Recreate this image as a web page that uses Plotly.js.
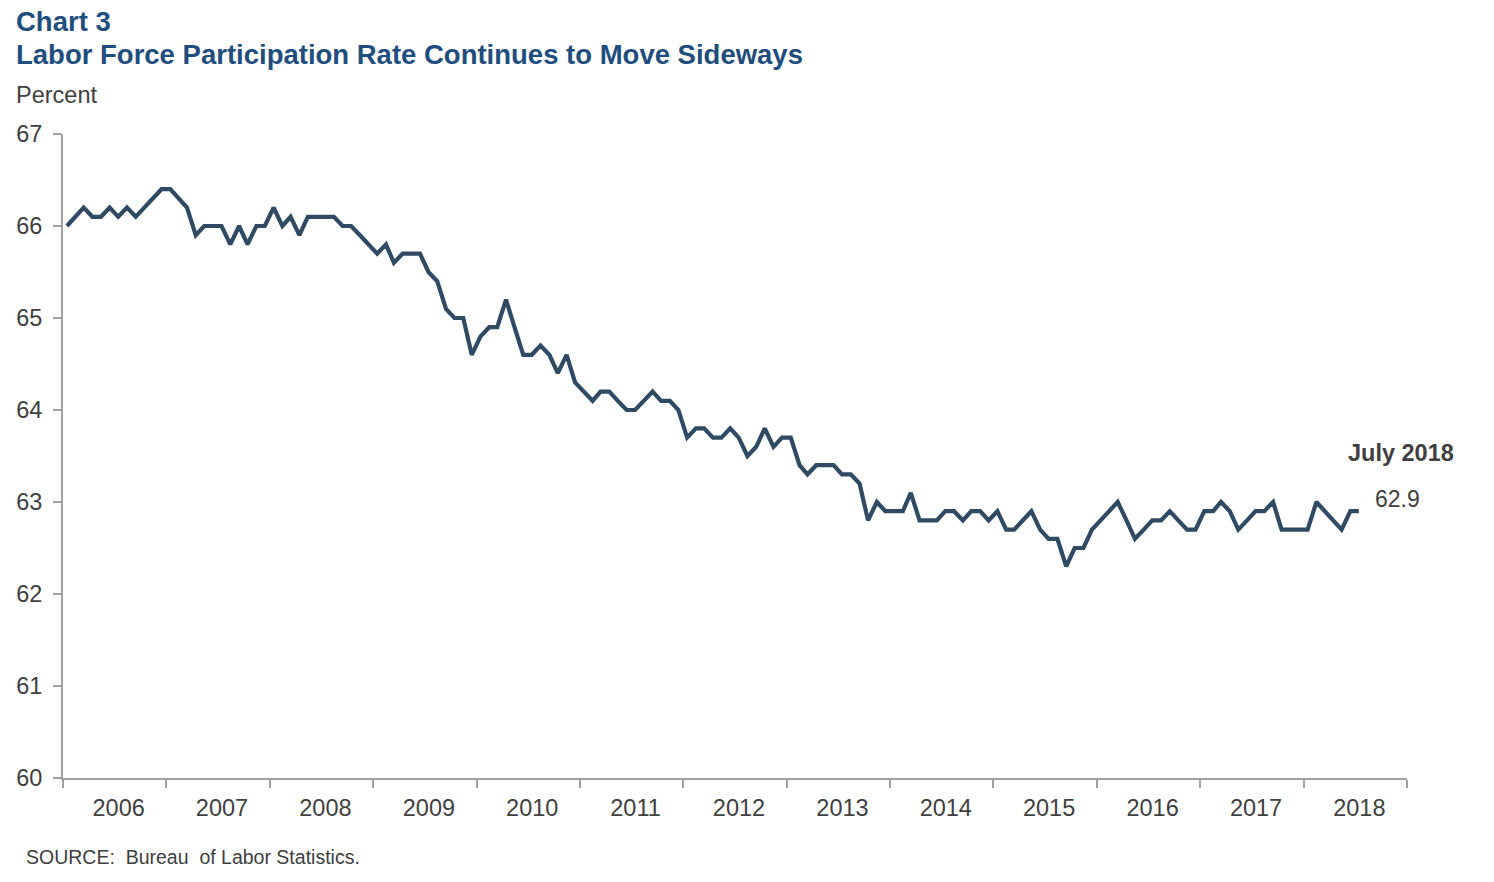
<!DOCTYPE html>
<html>
<head>
<meta charset="utf-8">
<script src="https://cdn.plot.ly/plotly-3.0.1.min.js"></script>
<style>
  html, body { margin: 0; padding: 0; background: #fff; }
  #chart { width: 1494px; height: 882px; }
</style>
</head>
<body>
<div id="chart"></div>
<script>
// monthly labor force participation rate, Jan 2006 - Jul 2018
var startYear = 2006;
var rate2006 = [66.0, 66.1, 66.2, 66.1, 66.1, 66.2, 66.1, 66.2, 66.1, 66.2, 66.3, 66.4];
var rate2007 = [66.4, 66.3, 66.2, 65.9, 66.0, 66.0, 66.0, 65.8, 66.0, 65.8, 66.0, 66.0];
var rate2008 = [66.2, 66.0, 66.1, 65.9, 66.1, 66.1, 66.1, 66.1, 66.0, 66.0, 65.9, 65.8];
var rate2009 = [65.7, 65.8, 65.6, 65.7, 65.7, 65.7, 65.5, 65.4, 65.1, 65.0, 65.0, 64.6];
var rate2010 = [64.8, 64.9, 64.9, 65.2, 64.9, 64.6, 64.6, 64.7, 64.6, 64.4, 64.6, 64.3];
var rate2011 = [64.2, 64.1, 64.2, 64.2, 64.1, 64.0, 64.0, 64.1, 64.2, 64.1, 64.1, 64.0];
var rate2012 = [63.7, 63.8, 63.8, 63.7, 63.7, 63.8, 63.7, 63.5, 63.6, 63.8, 63.6, 63.7];
var rate2013 = [63.7, 63.4, 63.3, 63.4, 63.4, 63.4, 63.3, 63.3, 63.2, 62.8, 63.0, 62.9];
var rate2014 = [62.9, 62.9, 63.1, 62.8, 62.8, 62.8, 62.9, 62.9, 62.8, 62.9, 62.9, 62.8];
var rate2015 = [62.9, 62.7, 62.7, 62.8, 62.9, 62.7, 62.6, 62.6, 62.3, 62.5, 62.5, 62.7];
var rate2016 = [62.8, 62.9, 63.0, 62.8, 62.6, 62.7, 62.8, 62.8, 62.9, 62.8, 62.7, 62.7];
var rate2017 = [62.9, 62.9, 63.0, 62.9, 62.7, 62.8, 62.9, 62.9, 63.0, 62.7, 62.7, 62.7];
var rate2018 = [62.7, 63.0, 62.9, 62.8, 62.7, 62.9, 62.9];

var lastLabel = 'July 2018';

var rates = [].concat(rate2006, rate2007, rate2008, rate2009, rate2010, rate2011,
    rate2012, rate2013, rate2014, rate2015, rate2016, rate2017, rate2018);

// mid-month dates for each observation
var months = rates.map(function (v, i) {
    var y = startYear + Math.floor(i / 12);
    var m = (i % 12) + 1;
    return y + '-' + (m < 10 ? '0' + m : m) + '-15';
});

var lastX = months[months.length - 1];
var lastY = rates[rates.length - 1];

var grey = '#404040';
var axisGrey = '#a0a0a0';
var titleBlue = '#1f4e7e';
var font = 'Arial, "Liberation Sans", sans-serif';

// plot area in px: x 63..1407, y 134..778
function px(v) { return (v - 63) / 1344; }
function py(v) { return (778 - v) / 644; }

var data = [{
    type: 'scatter',
    mode: 'lines',
    x: months,
    y: rates,
    line: {color: '#2f4a62', width: 4.2},
    hoverinfo: 'x+y',
    showlegend: false
}];

var layout = {
    width: 1494,
    height: 882,
    margin: {l: 63, r: 87, t: 134, b: 104},
    paper_bgcolor: '#fff',
    plot_bgcolor: '#fff',
    font: {family: font, color: grey, size: 22},
    xaxis: {
        type: 'date',
        range: ['2006-01-01', '2019-01-01'],
        tick0: '2006-01-01',
        dtick: 'M12',
        tickformat: '%Y',
        ticklabelmode: 'period',
        ticklabelshift: 4,
        ticks: 'outside',
        ticklen: 8,
        tickwidth: 2,
        tickcolor: axisGrey,
        showline: true,
        linecolor: axisGrey,
        linewidth: 2,
        showgrid: false,
        zeroline: false,
        tickfont: {size: 23.5, color: grey},
        fixedrange: true
    },
    yaxis: {
        range: [60, 67],
        dtick: 1,
        ticks: 'outside',
        ticklen: 8,
        tickwidth: 2,
        tickcolor: axisGrey,
        showline: true,
        linecolor: axisGrey,
        linewidth: 2,
        showgrid: false,
        zeroline: false,
        tickfont: {size: 23.5, color: grey},
        ticklabelstandoff: 6,
        fixedrange: true
    },
    annotations: [
        {xref: 'paper', yref: 'paper', x: px(14), y: py(22), xanchor: 'left', yanchor: 'middle',
         text: '<b>Chart 3</b>', showarrow: false, font: {size: 27.5, color: titleBlue}},
        {xref: 'paper', yref: 'paper', x: px(14), y: py(55), xanchor: 'left', yanchor: 'middle',
         text: '<b>Labor Force Participation Rate Continues to Move Sideways</b>', showarrow: false,
         font: {size: 27.5, color: titleBlue}},
        {xref: 'paper', yref: 'paper', x: px(14), y: py(95), xanchor: 'left', yanchor: 'middle',
         text: 'Percent', showarrow: false, font: {size: 23.5, color: grey}},
        {xref: 'paper', yref: 'paper', x: px(24), y: py(857), xanchor: 'left', yanchor: 'middle',
         text: 'SOURCE:  Bureau  of Labor Statistics.', showarrow: false, font: {size: 19.5, color: grey}},
        {xref: 'x', yref: 'y', x: lastX, y: lastY, xanchor: 'left', yanchor: 'middle',
         xshift: 14, yshift: 12, text: String(lastY.toFixed(1)), showarrow: false,
         font: {size: 23, color: grey}},
        {xref: 'paper', yref: 'paper', x: px(1456), y: py(453), xanchor: 'right', yanchor: 'middle',
         text: '<b>' + lastLabel + '</b>', showarrow: false, font: {size: 23.5, color: grey}}
    ]
};

Plotly.newPlot('chart', data, layout, {displayModeBar: false, staticPlot: true});
</script>
</body>
</html>
